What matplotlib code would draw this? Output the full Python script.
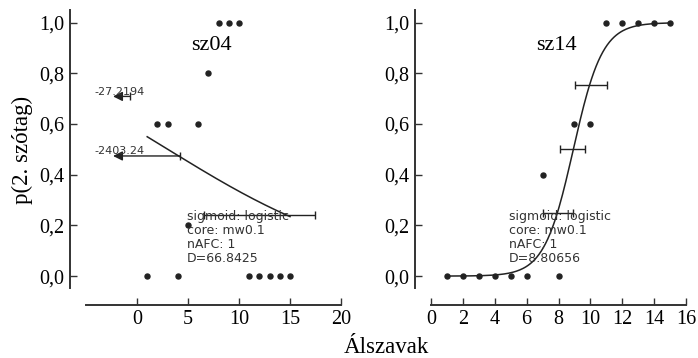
import numpy as np
import matplotlib
matplotlib.use("Agg")
from matplotlib import pyplot as plt
from matplotlib.ticker import FuncFormatter


# Data
stim = [1, 2, 3, 4, 5, 6, 7, 8, 9, 10, 11, 12, 13, 14, 15]
p_sz04 = [0, 0.6, 0.6, 0, 0.2, 0.6, 0.8, 1, 1, 1, 0, 0, 0, 0, 0]
p_sz14 = [0, 0, 0, 0, 0, 0, 0.4, 0, 0.6, 0.6, 1, 1, 1, 1, 1]

# logistic fits: midpoint, scale (negative scale = falling curve)
fit_sz04 = (3.03, -10.13)
fit_sz14 = (8.93, 0.91)

# confidence intervals of the thresholds: level, low, high
ci_level_sz04 = [0.241, 0.474, 0.709]
ci_low_sz04 = [6.57, -2403.24, -27.2194]
ci_high_sz04 = [17.45, 4.25, -0.7]

ci_level_sz14 = [0.25, 0.5, 0.755]
ci_low_sz14 = [7.05, 8.09, 9.03]
ci_high_sz14 = [8.89, 9.66, 11.02]

deviance = [66.8425, 8.80656]
names = ["sz04", "sz14"]
xlims = [(-5, 20), (0, 16)]
xticks = [[0, 5, 10, 15, 20], list(range(0, 17, 2))]

plt.rcParams['font.family'] = ['Liberation Serif', 'DejaVu Serif']
ink = "#222222"

fig = plt.figure(figsize=(6.98, 3.58), dpi=100)
ax_l = fig.add_axes([86 / 698, 70 / 358, 255 / 698, 278 / 358])
ax_r = fig.add_axes([431 / 698, 70 / 358, 255 / 698, 278 / 358])

panels = [
    (ax_l, p_sz04, fit_sz04, ci_level_sz04, ci_low_sz04, ci_high_sz04),
    (ax_r, p_sz14, fit_sz14, ci_level_sz14, ci_low_sz14, ci_high_sz14),
]

for i, (ax, p, fit, lev, lo, hi) in enumerate(panels):
    xmin, xmax = xlims[i]

    # sigmoid
    xs = np.linspace(min(stim), max(stim), 200)
    ys = 1 / (1 + np.exp(-(xs - fit[0]) / fit[1]))
    ax.plot(xs, ys, color=ink, lw=1.1, zorder=2)

    # data
    ax.plot(stim, p, 'o', color=ink, ms=3.6, zorder=3)

    # threshold CIs
    for y, a, b in zip(lev, lo, hi):
        if a >= xmin:
            ax.errorbar((a + b) / 2, y, xerr=[[(b - a) / 2]], fmt='none',
                        ecolor=ink, elinewidth=1, capsize=3, capthick=1)
        else:
            tip = -2.35
            ax.plot([b], [y], '|', color=ink, ms=6, mew=1)
            ax.annotate('', xy=(tip, y), xytext=(b, y),
                        arrowprops=dict(arrowstyle='-|>', color=ink, lw=1,
                                        mutation_scale=14, shrinkA=0, shrinkB=0))
            ax.text(-4.2, y + 0.018, f"{a:g}", fontsize=8, color="#333333",
                    family='DejaVu Sans', ha='left', va='center')

    # fit info
    info = f"sigmoid: logistic\ncore: mw0.1\nnAFC: 1\nD={deviance[i]:g}"
    ax.text(4.9, 0.262, info, fontsize=9, color="#333333",
            family='DejaVu Sans', ha='left', va='top', linespacing=1.1)

    ax.text(0.49, 0.874, names[i], transform=ax.transAxes, fontsize=16,
            ha='center', va='center')

    ax.set_xlim(xmin, xmax)
    ax.set_ylim(-0.047, 1.05)
    ax.set_xticks(xticks[i])
    ax.set_yticks([0, 0.2, 0.4, 0.6, 0.8, 1.0])
    ax.yaxis.set_major_formatter(FuncFormatter(lambda v, pos: f"{v:.1f}".replace('.', ',')))

    for side in ['top', 'right']:
        ax.spines[side].set_visible(False)
    ax.spines['left'].set_position(('outward', 11.5))
    ax.spines['bottom'].set_position(('outward', 12.2))
    for side in ['left', 'bottom']:
        ax.spines[side].set_color("#333333")
        ax.spines[side].set_linewidth(1.4)
    ax.tick_params(direction='in', length=5, width=1, color="#333333",
                   labelsize=14.5, pad=4)
    ax.patch.set_visible(False)

fig.text(386 / 698, 5 / 358, "Álszavak", fontsize=16.5, ha='center', va='baseline')
fig.text(22 / 698, 0.581, "p(2. szótag)", fontsize=16.5, rotation=90,
         ha='center', va='center')

fig.savefig("out.png", dpi=100)
